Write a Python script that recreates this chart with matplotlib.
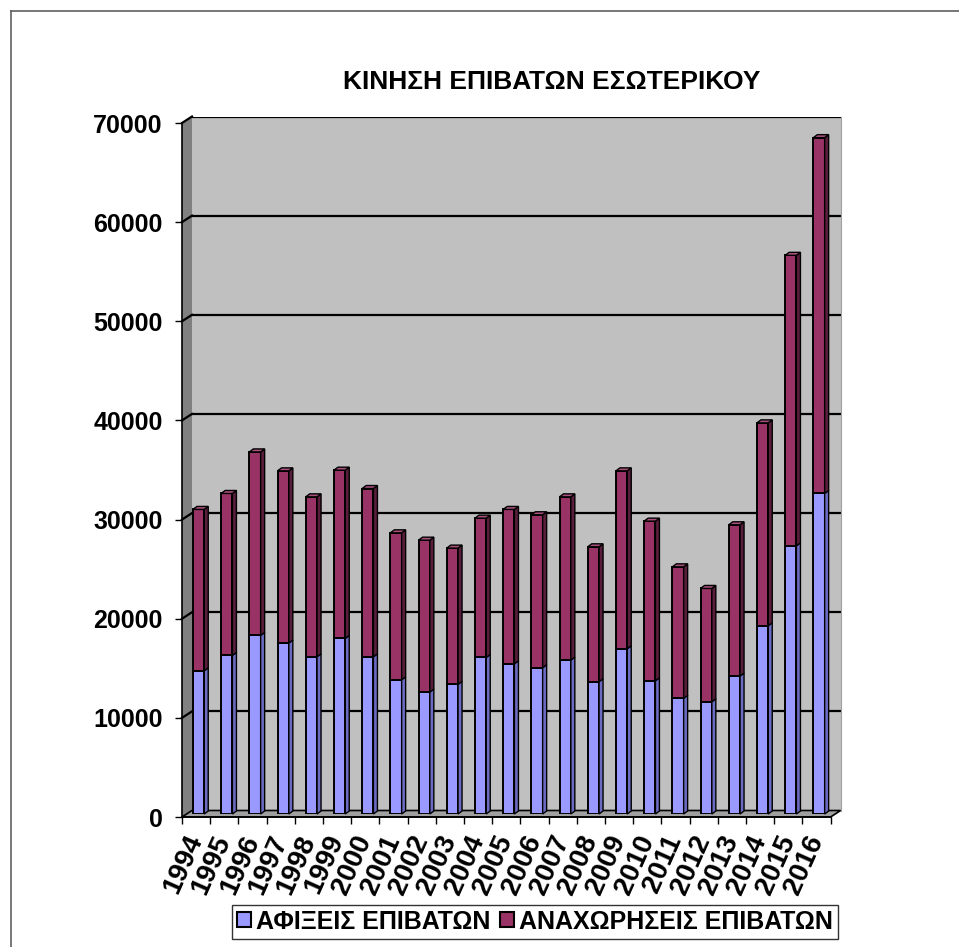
import numpy as np
import matplotlib.pyplot as plt
import matplotlib.transforms as mtransforms
from matplotlib.patches import Polygon, Patch
from matplotlib.lines import Line2D

plt.rcParams['font.family'] = ['Liberation Sans', 'DejaVu Sans']

# data
years = ['1994', '1995', '1996', '1997', '1998', '1999', '2000', '2001', '2002', '2003', '2004',
         '2005', '2006', '2007', '2008', '2009', '2010', '2011', '2012', '2013', '2014', '2015', '2016']
arrivals = [14450, 16000, 18010, 17240, 15860, 17710, 15860, 13540, 12300, 13070, 15790,
            15160, 14750, 15520, 13340, 16670, 13440, 11660, 11320, 13910, 18990, 27050, 32330]
departures = [16270, 16330, 18510, 17370, 16130, 16970, 16970, 14820, 15320, 13750, 14050,
              15560, 15430, 16470, 13610, 17940, 16100, 13270, 11430, 15260, 20460, 29300, 35890]
yticks = [0, 10000, 20000, 30000, 40000, 50000, 60000, 70000]

title = 'ΚΙΝΗΣΗ ΕΠΙΒΑΤΩΝ ΕΣΩΤΕΡΙΚΟΥ'
labels = ['ΑΦΙΞΕΙΣ ΕΠΙΒΑΤΩΝ', 'ΑΝΑΧΩΡΗΣΕΙΣ ΕΠΙΒΑΤΩΝ']
c_arr, c_dep = '#9999FF', '#993366'
c_arr_side, c_dep_side = '#6B6BC2', '#5A1E3C'
c_dep_top = '#A8507C'

W, H = 959, 947
fig = plt.figure(figsize=(W / 100, H / 100), dpi=100)

# front plane of the pseudo-3d box, in pixels
fx0, fy0, fw, fh = 182, 817, 648.6, 694
depth = (10, 6.5)      # back wall offset
bar_off = (2.5, 3)     # plane of the bars
side = (4, 3)          # bar depth


def px_axes(dx, dy, z):
    a = fig.add_axes([(fx0 + dx) / W, 1 - (fy0 - dy) / H, fw / W, fh / H], zorder=z)
    a.set_xlim(-0.5, len(years) - 0.5)
    a.set_ylim(0, 70000)
    return a


back = px_axes(depth[0], depth[1], 0)
mid = px_axes(bar_off[0], bar_off[1], 1)
front = px_axes(0, 0, 2)

# back wall
back.set_facecolor('#C0C0C0')
for s in back.spines.values():
    s.set_visible(False)
back.spines['right'].set_visible(True)
back.spines['right'].set_color('#A0A0A0')
back.set_xticks([])
back.set_yticks([])
for t in yticks[1:]:
    back.axhline(t, color='black', lw=1.6, zorder=1)

ident = mtransforms.IdentityTransform()
n = len(years)

# left wall and floor (display coords from both planes)
fl = front.transData.transform
bl = back.transData.transform
lw_pts = [fl((-0.5, 0)), fl((-0.5, 70000)), bl((-0.5, 70000)), bl((-0.5, 0))]
fig.add_artist(Polygon(lw_pts, closed=True, transform=ident, facecolor='#808080',
                       edgecolor='none', zorder=0.5))
floor_pts = [fl((-0.5, 0)), fl((n - 0.5, 0)), bl((n - 0.5, 0)), bl((-0.5, 0))]
fig.add_artist(Polygon(floor_pts, closed=True, transform=ident, facecolor='#A0A0A0',
                       edgecolor='black', lw=1.2, zorder=0.5))
for t in yticks[1:]:
    p, q = fl((-0.5, t)), bl((-0.5, t))
    fig.add_artist(Line2D([p[0], q[0]], [p[1], q[1]], transform=ident, color='black',
                          lw=1.6, zorder=0.6))

# bars
x = np.arange(n)
bw = 0.4
mid.axis('off')
mid.bar(x, arrivals, bw, color=c_arr, edgecolor='black', lw=1.4, zorder=2)
mid.bar(x, departures, bw, bottom=arrivals, color=c_dep, edgecolor='black', lw=1.4, zorder=2)
md = mid.transData.transform
for i in range(n):
    segs = [(0, arrivals[i], c_arr_side), (arrivals[i], arrivals[i] + departures[i], c_dep_side)]
    for y0, y1, col in segs:
        a, b = md((i + bw / 2, y0)), md((i + bw / 2, y1))
        pts = [a, b, b + side, a + side]
        mid.add_patch(Polygon(pts, closed=True, transform=ident, facecolor=col,
                              edgecolor='black', lw=1.0, zorder=3, clip_on=False))
    top = arrivals[i] + departures[i]
    a, b = md((i - bw / 2, top)), md((i + bw / 2, top))
    pts = [a, b, b + side, a + side]
    mid.add_patch(Polygon(pts, closed=True, transform=ident, facecolor=c_dep_top,
                          edgecolor='black', lw=1.0, zorder=3, clip_on=False))

# front axes: ticks and labels
front.set_facecolor('none')
front.spines['top'].set_visible(False)
front.spines['right'].set_visible(False)
for s in ['left', 'bottom']:
    front.spines[s].set_linewidth(1.2)
front.set_yticks(yticks)
front.set_yticklabels([str(t) for t in yticks], fontsize=18, fontweight='bold')
front.tick_params(axis='y', length=5, width=1, pad=9)
front.set_xticks(x)
front.set_xticklabels(years, fontsize=20, fontweight='bold', rotation=66,
                      ha='right', va='center', rotation_mode='anchor')
front.set_xticks(np.arange(-0.5, n, 1), minor=True)
front.tick_params(axis='x', which='major', length=0, pad=14)
front.tick_params(axis='x', which='minor', length=5, width=1)

fig.text(551.5 / W, 1 - 82 / H, title, ha='center', va='center', fontsize=19, fontweight='bold')

handles = [Patch(facecolor=c_arr, edgecolor='black', lw=1.5),
           Patch(facecolor=c_dep, edgecolor='black', lw=1.5)]
leg = fig.legend(handles, labels, loc='center', bbox_to_anchor=(535 / W, 1 - 921.5 / H),
                 ncol=2, frameon=True, fancybox=False, shadow=False, handlelength=0.55,
                 handleheight=0.55, handletextpad=0.2, columnspacing=0.4, borderpad=0.2,
                 prop={'weight': 'bold', 'size': 18})
leg.get_frame().set_edgecolor('black')
leg.get_frame().set_linewidth(1.0)

# outer frame
fig.add_artist(Line2D([11 / W, 1], [1 - 11 / H, 1 - 11 / H], transform=fig.transFigure,
                      color='#606060', lw=1.2))
fig.add_artist(Line2D([11 / W, 11 / W], [0, 1 - 11 / H], transform=fig.transFigure,
                      color='#606060', lw=1.2))

fig.savefig('out.png', dpi=100)
